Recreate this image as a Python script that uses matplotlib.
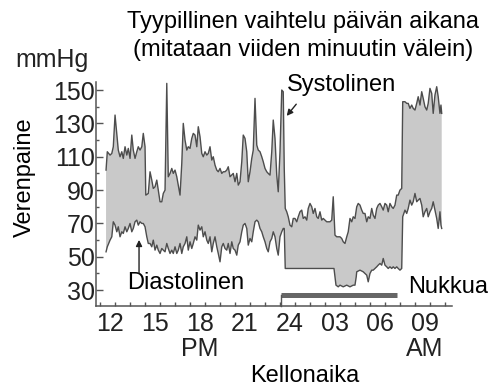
import numpy as np
import matplotlib
matplotlib.use("Agg")
import matplotlib.pyplot as plt
from matplotlib.transforms import ScaledTranslation

plt.rcParams['font.family'] = ['Liberation Sans', 'DejaVu Sans']

# Readings: minutes after 12:00 noon and pressure in mmHg
sys_min = [24, 29, 40, 47, 53, 60, 67, 73, 80, 87, 93, 100, 107, 113, 120, 127, 133, 140, 147, 153,
           160, 167, 173, 180, 183, 193, 200, 207, 213, 220, 227, 233, 240, 247, 253, 260, 267, 273,
           280, 287, 293, 300, 307, 313, 320, 327, 333, 340, 347, 353, 360, 367, 373, 380, 387, 393,
           400, 407, 413, 420, 427, 433, 440, 447, 453, 460, 467, 473, 480, 487, 493, 500, 507, 513,
           520, 533, 540, 547, 553, 560, 567, 573, 580, 587, 593, 600, 607, 613, 620, 627, 633, 640,
           647, 653, 660, 667, 673, 680, 687, 693, 700, 707, 713, 720, 727, 733, 737, 741, 747, 753,
           760, 767, 773, 780, 787, 793, 800, 807, 813, 820, 827, 833, 840, 847, 853, 860, 867, 873,
           880, 887, 893, 900, 907, 913, 920, 927, 933, 937, 940, 947, 953, 960, 967, 973, 980, 987,
           993, 1000, 1007, 1013, 1020, 1027, 1033, 1040, 1047, 1053, 1060, 1067, 1073, 1080, 1087,
           1093, 1100, 1107, 1113, 1120, 1127, 1133, 1140, 1147, 1153, 1160, 1167, 1173, 1180, 1187,
           1193, 1200, 1207, 1211, 1220, 1227, 1233, 1240, 1247, 1253, 1260, 1267, 1273, 1280, 1287,
           1293, 1300, 1307, 1313, 1320, 1327, 1333, 1340, 1347, 1353, 1360, 1364, 1367]
sys_val = [102, 113, 111, 112, 116, 135, 124, 114, 110, 113, 109, 116, 111, 115, 109, 123, 114, 109, 113, 116,
           114, 116, 124, 116, 87, 88, 101, 96, 91, 92, 96, 90, 83, 83, 88, 90, 154, 98,
           100, 103, 100, 102, 98, 93, 87, 106, 130, 120, 114, 116, 115, 121, 124, 123, 116, 128,
           122, 112, 110, 113, 111, 112, 116, 108, 110, 105, 102, 101, 103, 100, 101, 101, 102, 104,
           98, 100, 95, 100, 93, 95, 107, 123, 121, 113, 95, 101, 109, 114, 145, 117, 114, 113,
           110, 107, 103, 101, 100, 99, 113, 132, 121, 99, 89, 113, 150, 149, 103, 79, 77, 74,
           69, 68, 73, 73, 71, 74, 77, 78, 73, 74, 72, 79, 82, 80, 76, 79, 74, 73,
           77, 72, 73, 72, 71, 71, 71, 72, 86, 73, 63, 62, 62, 62, 61, 59, 58, 62,
           65, 73, 71, 74, 73, 80, 82, 81, 78, 76, 76, 71, 74, 73, 79,
           75, 73, 79, 81, 82, 80, 78, 82, 81, 77, 82, 80, 79, 81, 87,
           87, 90, 91, 143, 143, 142, 142, 139, 141, 139, 138, 142, 146, 141, 149,
           145, 140, 138, 142, 151, 148, 136, 147, 152, 146, 136, 141, 136]

dia_min = [24, 29, 40, 47, 53, 60, 67, 73, 80, 87, 93, 100, 107, 113, 120, 127, 133, 140, 147, 153,
           160, 167, 173, 180, 187, 193, 200, 207, 213, 220, 227, 233, 240, 247, 253, 260, 267, 273,
           280, 287, 293, 300, 307, 313, 320, 327, 333, 340, 347, 353, 360, 367, 373, 380, 387, 393,
           400, 407, 413, 420, 427, 433, 440, 447, 453, 460, 467, 473, 480, 487, 493, 500, 507, 513,
           520, 527, 533, 540, 547, 553, 560, 567, 573, 580, 587, 593, 600, 607, 613, 620, 627, 633,
           640, 647, 653, 660, 667, 673, 680, 687, 693, 700, 707, 713, 720, 727, 733, 737, 741,
           780, 840, 900, 936, 940, 944, 953, 960, 973, 987, 1000, 1013, 1020, 1025, 1027, 1040,
           1053, 1067, 1073, 1080, 1087, 1093, 1100, 1107, 1113, 1120, 1127, 1133, 1140, 1147, 1153,
           1160, 1167, 1173, 1180, 1187, 1193, 1200, 1207, 1211, 1220, 1227, 1233, 1240, 1247, 1253,
           1260, 1267, 1273, 1280, 1287, 1293, 1300, 1307, 1313, 1320, 1327, 1333, 1340, 1347, 1353,
           1360, 1364, 1367]
dia_val = [53, 56, 60, 62, 71, 69, 65, 68, 62, 65, 64, 68, 65, 67, 70, 65, 67, 71, 72, 69,
           71, 70, 70, 68, 62, 58, 58, 56, 60, 54, 57, 54, 52, 55, 54, 53, 58, 55,
           52, 54, 52, 56, 52, 54, 58, 52, 56, 58, 62, 54, 59, 55, 58, 62, 60, 69,
           66, 68, 62, 65, 60, 58, 62, 53, 58, 62, 56, 52, 47, 56, 58, 55, 54, 58,
           52, 59, 55, 54, 51, 57, 59, 65, 69, 70, 67, 57, 61, 59, 65, 71, 72, 71,
           67, 65, 62, 59, 55, 53, 59, 61, 65, 62, 55, 51, 62, 65, 67, 67, 43,
           43, 43, 43, 43, 38, 33, 32, 33, 32, 33, 32, 33, 33, 38, 41, 42,
           41, 39, 35, 40, 42, 42, 43, 44, 45, 46, 45, 49, 45, 44, 43,
           44, 43, 44, 43, 44, 43, 42, 43, 74, 78, 76, 79, 84, 81, 83,
           88, 83, 84, 85, 81, 74, 77, 79, 74, 77, 79, 83, 78, 73, 67,
           77, 69, 67]

# Clock positions of the labelled hours (24-hour axis starting at noon)
hour_ticks = [12, 15, 18, 21, 24, 27, 30, 33]
hour_labels = ['12', '15', '18', '21', '24', '03', '06', '09']
sleep_start, sleep_end = 24.1, 31.8   # hours on the same axis

ts = 12 + np.array(sys_min) / 60.0
td = 12 + np.array(dia_min) / 60.0
sv = np.array(sys_val, dtype=float)
dv = np.array(dia_val, dtype=float)

fig = plt.figure(figsize=(4.98, 3.89), dpi=100)
ax = fig.add_axes([96 / 498, 83 / 389, 356 / 498, 224.3 / 389])

line_col = '#4d4d4d'
ax.fill(np.r_[ts, td[::-1]], np.r_[sv, dv[::-1]], color='#c9c9c9', lw=0, zorder=1)
ax.plot(ts, sv, color=line_col, lw=1.0, zorder=2)
ax.plot(td, dv, color=line_col, lw=1.0, zorder=2)

ax.set_xlim(11.73, 35.47)
ax.set_ylim(20.5, 155)

for s in ['top', 'right']:
    ax.spines[s].set_visible(False)
for s in ['left', 'bottom']:
    ax.spines[s].set_color('#555555')
    ax.spines[s].set_linewidth(1.1)

fs = 17
tfs = 18
ax.set_yticks(range(30, 151, 20))
ax.set_yticks(range(40, 141, 20), minor=True)
ax.set_xticks(hour_ticks)
ax.set_xticklabels(hour_labels)
ax.set_xticks(range(12, 36), minor=True)
ax.tick_params(axis='y', which='major', direction='in', length=5, width=1.0,
               color='#555555', labelsize=tfs, pad=1, labelcolor='#222222')
ax.tick_params(axis='y', which='minor', direction='in', length=2.5, width=1.0, color='#555555')
ax.tick_params(axis='x', which='both', direction='in', length=3, width=1.0,
               color='#555555', labelsize=tfs, pad=4, labelcolor='#222222')

shift = ScaledTranslation(10 / 100, 0, fig.dpi_scale_trans)
for lab in ax.get_xticklabels():
    lab.set_transform(lab.get_transform() + shift)

# AM / PM markers under the hour labels
xt = ax.get_xaxis_transform() + shift
ax.text(18, -0.19, 'PM', transform=xt, ha='center', va='center', fontsize=tfs, color='#222222')
ax.text(33, -0.19, 'AM', transform=xt, ha='center', va='center', fontsize=tfs, color='#222222')

# Sleep period bar
ax.plot([sleep_start, sleep_end], [27.3, 27.3], color='#666666', lw=3.6,
        solid_capstyle='butt', zorder=3, clip_on=False)
ax.plot([sleep_start, sleep_start], [20.5, 27.3], color='#555555', lw=1.0, zorder=3, clip_on=False)
ax.text(35.2, 32, 'Nukkua', ha='center', va='center', fontsize=fs, clip_on=False)

# Annotations
ax.text(28.13, 153, 'Systolinen', ha='center', va='center', fontsize=fs)
ax.annotate('', xy=(24.33, 133.2), xytext=(25.2, 142.8),
            arrowprops=dict(arrowstyle='-|>', color='#222222', lw=1.0, mutation_scale=9))
ax.text(17.73, 34.2, 'Diastolinen', ha='center', va='center', fontsize=fs)
ax.annotate('', xy=(14.6, 61.8), xytext=(14.6, 38.5),
            arrowprops=dict(arrowstyle='-|>', color='#222222', lw=1.0, mutation_scale=9))

# Titles and axis names
fig.text(303 / 498, 1 - 22 / 389, 'Tyypillinen vaihtelu päivän aikana',
         ha='center', va='center', fontsize=fs)
fig.text(303 / 498, 1 - 50 / 389, '(mitataan viiden minuutin välein)',
         ha='center', va='center', fontsize=fs)
fig.text(15 / 498, 1 - 60 / 389, 'mmHg', ha='left', va='center', fontsize=tfs, color='#222222')
fig.text(25 / 498, 1 - 177 / 389, 'Verenpaine', ha='center', va='center',
         rotation=90, fontsize=fs)
fig.text(305 / 498, 1 - 376 / 389, 'Kellonaika', ha='center', va='center', fontsize=fs)

fig.savefig('out.png', dpi=100)
